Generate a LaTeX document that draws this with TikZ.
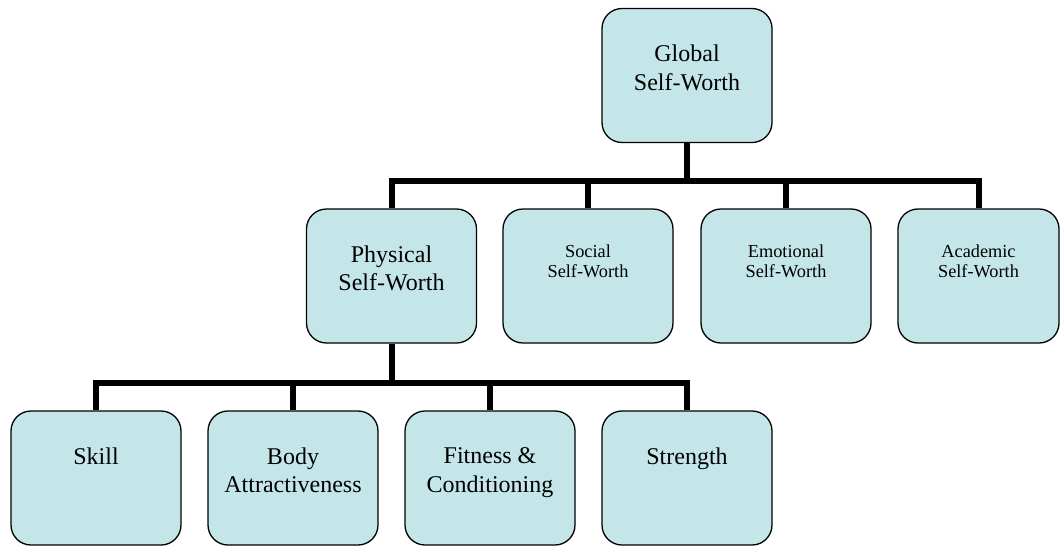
\documentclass[tikz,border=0pt]{standalone}
\usepackage{fontspec}
\setmainfont{Liberation Serif}
\definecolor{worthfill}{RGB}{197,230,233}
\begin{document}
\begin{tikzpicture}[x=1pt, y=-1pt,
    worth/.style ={draw, fill=worthfill, line width=1.3pt, rounded corners=20pt, inner sep=0pt, minimum width=170pt, minimum height=134pt},
    big/.style ={anchor=north, yshift=-37pt, inner sep=0pt, align=center, font=\fontsize{24}{28.5}\selectfont},
    small/.style ={anchor=north, yshift=-36pt, inner sep=0pt, align=center, font=\fontsize{18.3}{20.5}\selectfont},
    branch/.style ={line width=6pt, line join=miter}]
   \useasboundingbox (0,0) rectangle (1060,552);

   \node[worth] (G) [label={[big]90:Global\\Self-Worth}] at (687,75.5) {};

   \node[worth] (P) [label={[big]90:Physical\\Self-Worth}] at (391.5,276) {};
   \node[worth] (S) [label={[small]90:Social\\Self-Worth}] at (588,276) {};
   \node[worth] (E) [label={[small]90:Emotional\\Self-Worth}] at (786,276) {};
   \node[worth, minimum width=161pt] (A) [label={[small]90:Academic\\Self-Worth}] at (978.5,276) {};

   \node[worth] (K) [label={[big]90:Skill}] at (96,478) {};
   \node[worth] (B) [label={[big]90:Body\\Attractiveness}] at (293,478) {};
   \node[worth] (F) [label={[big]90:Fitness \&\\Conditioning}] at (490,478) {};
   \node[worth] (T) [label={[big]90:Strength}] at (687,478) {};

   \coordinate (upper) at (0,181);
   \coordinate (lower) at (0,383);

   \draw[branch] (G.south) to (G.south |- upper);
   \draw[branch] (P.north) -- (P.north |- upper) -- (A.north |- upper) -- (A.north);
   \draw[branch] (S.north) to (S.north |- upper);
   \draw[branch] (E.north) to (E.north |- upper);

   \draw[branch] (P.south) to (P.south |- lower);
   \draw[branch] (K.north) -- (K.north |- lower) -- (T.north |- lower) -- (T.north);
   \draw[branch] (B.north) to (B.north |- lower);
   \draw[branch] (F.north) to (F.north |- lower);
 \end{tikzpicture}
\end{document}
